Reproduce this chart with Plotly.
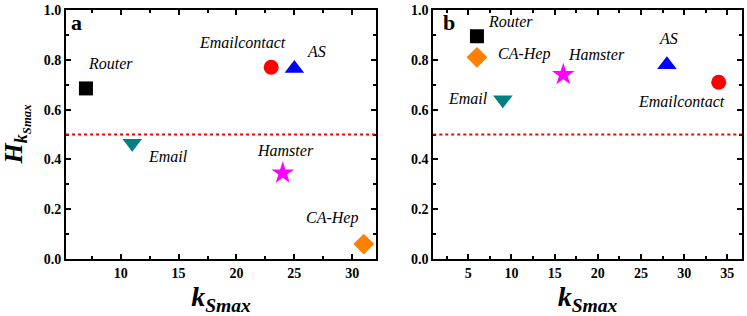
import plotly.graph_objects as go

names = ["Router", "Emailcontact", "AS", "Email", "Hamster", "CA-Hep"]
symbols = ["square", "circle", "triangle-up", "triangle-down", "star", "diamond"]
colors = ["#000000", "#ff0000", "#0000ff", "#008080", "#ff00ff", "#ff8000"]

# panel a
a_x = [7, 23, 25, 11, 24, 31]
a_y = [0.685, 0.77, 0.765, 0.465, 0.345, 0.06]
a_lx = [9.1, 20.5, 26.9, 14.1, 24.2, 28.25]
a_ly = [0.787, 0.869, 0.833, 0.41, 0.434, 0.164]

# panel b
b_x = [6, 34, 28, 9, 16, 6]
b_y = [0.895, 0.71, 0.78, 0.64, 0.74, 0.81]
b_lx = [9.9, 29.7, 28.2, 5.0, 19.9, 11.4]
b_ly = [0.953, 0.632, 0.886, 0.645, 0.822, 0.822]

threshold = 0.5

sizes = {"square": 14, "circle": 15, "triangle-up": 17, "triangle-down": 17, "star": 17, "diamond": 16}

SERIF = "Times New Roman, Liberation Serif, serif"

fig = go.Figure()
for panel, (xs, ys, xa, ya) in enumerate([(a_x, a_y, "x", "y"), (b_x, b_y, "x2", "y2")]):
    for i, n in enumerate(names):
        fig.add_trace(go.Scatter(
            x=[xs[i]], y=[ys[i]], mode="markers", xaxis=xa, yaxis=ya,
            marker=dict(symbol=symbols[i], color=colors[i], size=sizes[symbols[i]], line=dict(width=0)),
            showlegend=False, name=n))

annotations = []
for lx, ly, xr, yr in [(a_lx, a_ly, "x", "y"), (b_lx, b_ly, "x2", "y2")]:
    for i, n in enumerate(names):
        annotations.append(dict(x=lx[i], y=ly[i], xref=xr, yref=yr, text="<i>" + n + "</i>",
                                showarrow=False, font=dict(family=SERIF, size=16, color="black")))
annotations.append(dict(x=6.2, y=0.948, xref="x", yref="y", text="<b>a</b>", showarrow=False,
                        font=dict(family=SERIF, size=22, color="black")))
annotations.append(dict(x=2.82, y=0.948, xref="x2", yref="y2", text="<b>b</b>", showarrow=False,
                        font=dict(family=SERIF, size=22, color="black")))

ytitle = "<b><i>H</i></b><sub><b><i>k<sub>Smax</sub></i></b></sub>"
annotations.append(dict(x=16 / 747, y=0.5, xref="paper", yref="paper", text=ytitle, textangle=-90,
                        showarrow=False, xanchor="center", yanchor="middle",
                        font=dict(family=SERIF, size=26, color="black")))

shapes = [
    dict(type="line", xref="x domain", yref="y", x0=0, x1=1, y0=threshold, y1=threshold,
         line=dict(color="#ff0000", width=2, dash="dot")),
    dict(type="line", xref="x2 domain", yref="y2", x0=0, x1=1, y0=threshold, y1=threshold,
         line=dict(color="#ff0000", width=2, dash="dot")),
]

minor_x = dict(ticks="inside", ticklen=3, tickwidth=1.5, tickcolor="black", dtick=2.5)
minor_y = dict(ticks="inside", ticklen=3, tickwidth=1.5, tickcolor="black", dtick=0.1)

axis_common = dict(
    showline=True, linecolor="black", linewidth=2, mirror="allticks",
    ticks="inside", ticklen=5, tickwidth=1.5, tickcolor="black",
    showgrid=False, zeroline=False, automargin=False,
    tickfont=dict(family=SERIF, size=14, color="black"),
    tickprefix="<b>", ticksuffix="</b>",
)

xtitle = "<b><i>k</i></b><sub><b><i>Smax</i></b></sub>"
title_font = dict(family=SERIF, size=28, color="black")

fig.update_layout(
    width=747, height=316,
    margin=dict(l=0, r=0, t=10, b=57),
    plot_bgcolor="white", paper_bgcolor="white",
    annotations=annotations, shapes=shapes,
    xaxis=dict(domain=[0.0884, 0.5033], range=[5.28, 32.05], dtick=5, tick0=0, minor=minor_x,
               title=dict(text=xtitle, font=title_font, standoff=4), **axis_common),
    yaxis=dict(range=[0, 1], dtick=0.2, tickformat=".1f", anchor="x", minor=minor_y, **axis_common),
    xaxis2=dict(domain=[0.580, 0.993], range=[0.94, 36.67], dtick=5, tick0=0, anchor="y2", minor=minor_x,
                title=dict(text=xtitle, font=title_font, standoff=4), **axis_common),
    yaxis2=dict(range=[0, 1], dtick=0.2, tickformat=".1f", anchor="x2", minor=minor_y, **axis_common),
)

fig.write_html("out.html", config={"displayModeBar": False},
               post_script="document.body.style.margin='0';document.body.style.overflow='hidden';")
